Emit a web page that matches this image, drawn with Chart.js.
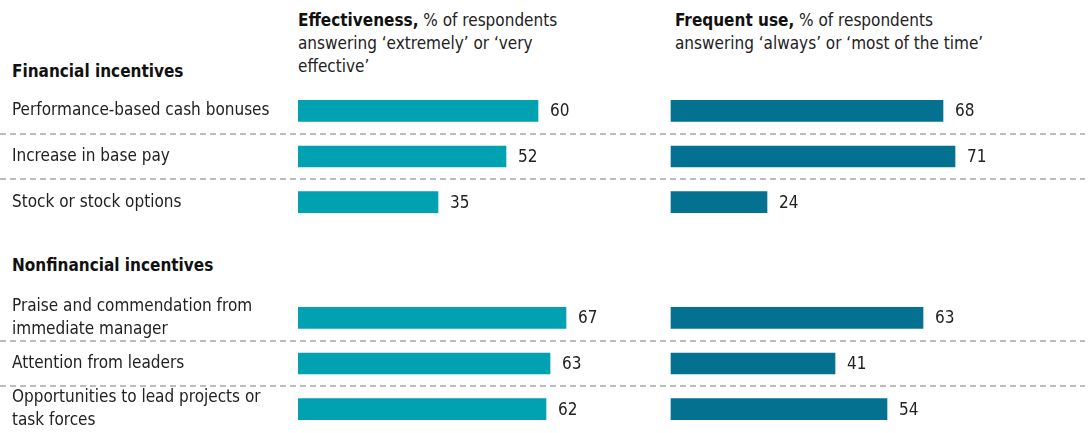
<!DOCTYPE html>
<html>
<head>
<meta charset="utf-8">
<script src="https://cdn.jsdelivr.net/npm/chart.js@4"></script>
<style>
  body { margin: 0; background: #fff; width: 1089px; height: 433px; position: relative; overflow: hidden;
         font-family: "DejaVu Sans Condensed", sans-serif; color: #222; }
  .head { position: absolute; font-size: 17px; line-height: 23px; }
  .head b { color: #111; }
  .grp { position: absolute; left: 12px; font-weight: bold; font-size: 17px; color: #111; }
  .box { position: absolute; left: 0; width: 1089px; height: 137px; }
</style>
</head>
<body>
<div class="head" style="left:298px;top:9px"><b>Effectiveness,</b> % of respondents<br>answering ‘extremely’ or ‘very<br>effective’</div>
<div class="head" style="left:675px;top:9px"><b>Frequent use,</b> % of respondents<br>answering ‘always’ or ‘most of the time’</div>
<div class="grp" style="top:61px">Financial incentives</div>
<div class="grp" style="top:255px">Nonfinancial incentives</div>
<div class="box" style="top:88px"><canvas id="chartFin"></canvas></div>
<div class="box" style="top:295px"><canvas id="chartNonfin"></canvas></div>
<script>
const finLabels = ['Performance-based cash bonuses', 'Increase in base pay', 'Stock or stock options'];
const finEffective = [60, 52, 35];
const finFrequent = [68, 71, 24];

const nonfinLabels = [['Praise and commendation from', 'immediate manager'], 'Attention from leaders',
                      ['Opportunities to lead projects or', 'task forces']];
const nonfinEffective = [67, 63, 62];
const nonfinFrequent = [63, 41, 54];

// layout: 4px per percentage point, left panel starts at 298px, right panel at 671px
const pxPerPoint = 4;
const plotLeft = 298, plotRight = 1085, rightStart = 671;
const fontFamily = '"DejaVu Sans Condensed", sans-serif';

Chart.defaults.font.family = fontFamily;

const rowExtras = {
  id: 'rowExtras',
  afterDatasetsDraw(chart) {
    const ctx = chart.ctx;
    const y = chart.scales.y;
    ctx.save();
    // dashed separators between rows
    ctx.strokeStyle = '#a8a8a8';
    ctx.lineWidth = 1.5;
    ctx.setLineDash([6, 4]);
    for (let i = 1; i < chart.data.labels.length; i++) {
      const py = Math.round((y.getPixelForValue(i - 1) + y.getPixelForValue(i)) / 2);
      ctx.beginPath();
      ctx.moveTo(0, py);
      ctx.lineTo(chart.chartArea.right, py);
      ctx.stroke();
    }
    ctx.setLineDash([]);
    // value labels
    ctx.font = '17px ' + fontFamily;
    ctx.fillStyle = '#222';
    ctx.textBaseline = 'middle';
    chart.data.datasets.forEach((ds, di) => {
      chart.getDatasetMeta(di).data.forEach((bar, i) => {
        ctx.fillText(ds.data[i], bar.x + 12, bar.y + 1);
      });
    });
    ctx.restore();
  }
};

function makeChart(id, labels, effective, frequent) {
  new Chart(document.getElementById(id), {
    type: 'bar',
    data: {
      labels: labels,
      datasets: [
        { label: 'Effectiveness', data: effective, xAxisID: 'x', backgroundColor: '#00a1b0',
          grouped: false, barThickness: 21 },
        { label: 'Frequent use', data: frequent, xAxisID: 'x2', backgroundColor: '#03718f',
          grouped: false, barThickness: 21 }
      ]
    },
    options: {
      indexAxis: 'y',
      responsive: true,
      maintainAspectRatio: false,
      animation: false,
      layout: { padding: { left: 12, right: 1089 - plotRight, top: 0, bottom: 0 } },
      scales: {
        y: {
          grid: { display: false },
          border: { display: false },
          ticks: { crossAlign: 'far', padding: 0, autoSkip: false, color: '#222',
                   font: { size: 17, lineHeight: 1.35 } },
          afterFit: function (scale) {
            scale.width = plotLeft - 12;
            scale.paddingTop = 0;
            scale.paddingBottom = 0;
          }
        },
        x: { display: false, min: 0, max: (plotRight - plotLeft) / pxPerPoint },
        x2: { display: false, min: -(rightStart - plotLeft) / pxPerPoint, max: (plotRight - rightStart) / pxPerPoint }
      },
      plugins: {
        legend: { display: false },
        tooltip: { enabled: false }
      }
    },
    plugins: [rowExtras]
  });
}

makeChart('chartFin', finLabels, finEffective, finFrequent);
makeChart('chartNonfin', nonfinLabels, nonfinEffective, nonfinFrequent);
</script>
</body>
</html>
